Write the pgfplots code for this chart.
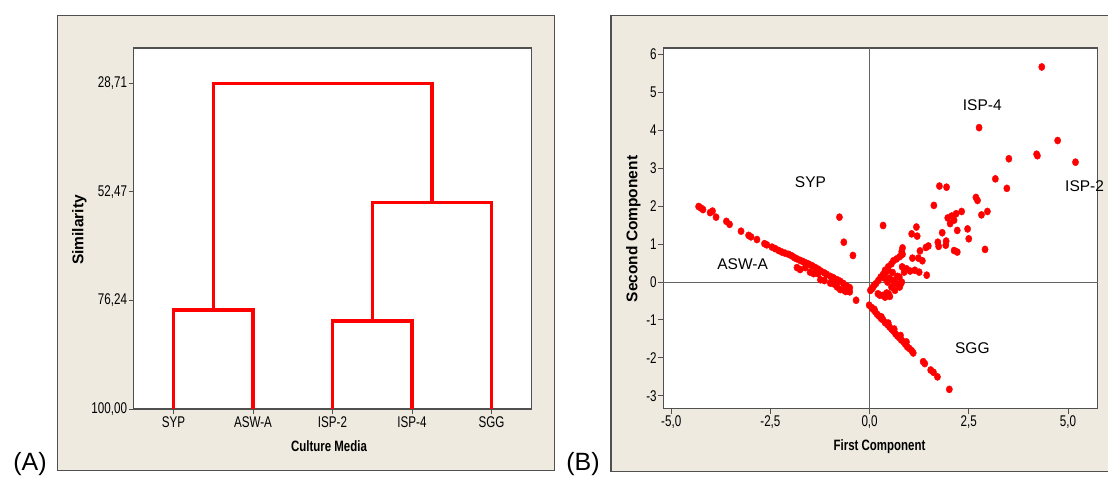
\documentclass[border=0pt]{standalone}
\usepackage{pgfplots}
\pgfplotsset{compat=1.18}
\usepackage{pgfplotstable}
\usepackage{fontspec}
\setmainfont{Liberation Sans}
\newfontfamily\tickfont[FakeStretch=0.75]{Liberation Sans}
\newfontfamily\labfont[FakeStretch=0.765]{Liberation Sans}
\definecolor{bg}{RGB}{238,234,224}
\definecolor{fr}{RGB}{80,80,80}
\definecolor{zl}{RGB}{100,100,100}
\definecolor{mred}{RGB}{255,0,0}

\pgfplotstableread{
x y
-4.31 1.99
-4.25 1.95
-4.20 1.91
-4.02 1.83
-3.96 1.87
-3.87 1.71
-3.61 1.60
-3.53 1.52
-3.24 1.34
-3.05 1.23
-2.99 1.19
-2.84 1.12
-2.65 1.01
-2.59 0.98
-2.46 0.92
-2.38 0.88
-2.29 0.83
-2.21 0.79
-2.13 0.76
-2.04 0.73
-1.96 0.69
-1.89 0.64
-1.83 0.61
-1.75 0.57
-1.68 0.54
-1.60 0.50
-1.53 0.47
-1.45 0.43
-1.37 0.38
-1.30 0.34
-1.23 0.29
-1.14 0.24
-1.08 0.20
-0.99 0.15
-0.91 0.11
-0.82 0.06
-0.74 0.02
-0.66 -0.04
-0.57 -0.11
-0.50 -0.15
-1.83 0.38
-1.75 0.33
-1.62 0.38
-1.50 0.26
-1.41 0.22
-1.30 0.22
-1.24 0.06
-1.14 0.04
-0.99 -0.03
-0.90 -0.05
-0.82 -0.13
-0.74 -0.20
-0.64 -0.22
-0.60 -0.25
-0.50 -0.26
-0.34 -0.48
}\aswa

\pgfplotstableread{
x y
-0.76 1.71
-0.65 1.05
-0.42 0.70
}\syp

\pgfplotstableread{
x y
-0.01 -0.61
0.05 -0.67
0.09 -0.72
0.12 -0.72
0.14 -0.78
0.19 -0.85
0.24 -0.90
0.29 -0.96
0.30 -0.92
0.34 -1.00
0.39 -1.07
0.45 -1.12
0.47 -1.08
0.50 -1.18
0.55 -1.24
0.60 -1.29
0.62 -1.24
0.65 -1.36
0.70 -1.42
0.75 -1.47
0.78 -1.41
0.80 -1.53
0.86 -1.58
0.90 -1.64
0.93 -1.58
0.95 -1.71
1.00 -1.75
1.06 -1.81
1.10 -1.87
1.35 -2.10
1.39 -2.15
1.54 -2.32
1.61 -2.38
1.71 -2.50
2.01 -2.83
}\sgg

\pgfplotstableread{
x y
4.34 5.67
2.76 4.07
4.74 3.73
4.21 3.37
4.23 3.33
5.19 3.16
3.51 3.25
3.17 2.72
3.46 2.47
1.76 2.53
1.94 2.50
2.68 2.23
2.72 2.15
2.97 1.86
2.82 1.77
2.32 1.86
1.62 2.02
1.97 1.69
2.07 1.74
2.18 1.80
2.03 1.54
2.13 1.63
2.21 1.36
2.47 1.40
2.50 1.14
1.83 1.30
2.91 0.86
2.13 0.83
2.21 0.79
1.93 1.08
1.92 0.97
1.72 1.05
1.74 0.94
0.34 1.49
1.18 1.45
1.06 1.27
1.20 1.21
1.48 0.95
1.42 0.91
1.27 0.82
0.83 0.90
0.81 0.80
1.08 0.63
1.23 0.63
1.33 0.56
0.60 0.56
0.68 0.61
0.76 0.67
0.83 0.73
0.55 0.48
0.47 0.40
0.39 0.31
0.93 0.35
0.87 0.26
1.02 0.29
1.14 0.31
1.25 0.26
1.44 0.18
0.82 0.40
0.75 0.13
0.09 -0.13
0.16 -0.04
0.22 0.04
0.28 0.13
0.34 0.20
0.41 0.26
0.47 0.31
0.60 0.04
0.68 -0.04
0.55 -0.13
0.64 -0.22
0.76 -0.13
0.81 0.00
0.26 -0.35
0.39 -0.40
0.51 -0.38
0.43 -0.29
0.21 -0.31
0.34 -0.35
0.48 -0.31
0.02 -0.22
0.06 -0.18
0.11 -0.09
0.79 -0.04
0.50 0.10
0.45 0.00
0.38 0.10
0.58 0.25
0.70 0.15
}\isp

\pgfplotsset{
  mystyle/.style={
    scale only axis,
    axis background/.style={fill=white},
    axis line style={fr, line width=1.1pt},
    tick style={fr, line width=0.9pt},
    tick align=outside,
    major tick length=5pt,
    xtick pos=bottom, ytick pos=left,
    tick label style={font=\tickfont\fontsize{15.5}{18}\selectfont},
    yticklabel style={inner xsep=1.5pt},
    xticklabel style={inner ysep=2pt},
  },
  dot/.style={only marks, color=mred, mark=*, mark size=3.6pt, mark options={solid, fill=mred, draw=mred, line width=0.4pt, xscale=0.87}}
}

\begin{document}
\begin{tikzpicture}
\useasboundingbox (0pt,0pt) rectangle (1108pt,477pt);
% panel backgrounds
\fill[bg] (57.3pt,6.3pt) rectangle (554.7pt,461.7pt);
\draw[fr, line width=1.3pt] (57.3pt,6.3pt) rectangle (554.7pt,461.7pt);
\fill[bg] (611pt,5.3pt) rectangle (1112pt,461.7pt);
\draw[fr, line width=1.3pt] (1112pt,461.7pt) -- (611pt,461.7pt) -- (611pt,5.3pt) -- (1112pt,5.3pt);

% (A) dendrogram
\begin{axis}[mystyle, at={(133.7pt,68pt)}, anchor=south west,
  width=397.6pt, height=361pt,
  xmin=0.5, xmax=5.5, y dir=reverse, ymin=20.98, ymax=100,
  xtick={1,2,3,4,5}, xticklabels={SYP,ASW-A,ISP-2,ISP-4,SGG},
  ytick={28.71,52.47,76.24,100},
  yticklabels={{28,71},{52,47},{76,24},{100,00}},
  clip=false]
\addplot[mred, line width=3.2pt, line join=miter] coordinates {(1,100) (1,78.33) (2,78.33) (2,100)};
\addplot[mred, line width=3.2pt, line join=miter] coordinates {(3,100) (3,80.74) (4,80.74) (4,100)};
\addplot[mred, line width=3.2pt, line join=miter] coordinates {(3.5,80.74) (3.5,54.76) (5,54.76) (5,100)};
\addplot[mred, line width=3.2pt, line join=miter] coordinates {(1.5,78.33) (1.5,28.71) (4.25,28.71) (4.25,54.76)};
\end{axis}

% (B) PCA scatter
\begin{axis}[mystyle, at={(663.3pt,68.3pt)}, anchor=south west,
  width=434.4pt, height=360.7pt,
  xmin=-5.2, xmax=5.75, ymin=-3.34, ymax=6.17,
  xtick={-5,-2.5,0,2.5,5}, xticklabels={{-5,0},{-2,5},{0,0},{2,5},{5,0}},
  ytick={-3,-2,-1,0,1,2,3,4,5,6}, yticklabels={-3,-2,-1,0,1,2,3,4,5,6},
  clip=false]
\draw[zl, line width=0.9pt] (axis cs:0,-3.34) -- (axis cs:0,6.17);
\draw[zl, line width=0.9pt] (axis cs:-5.2,0) -- (axis cs:5.75,0);
\addplot[dot] table {\aswa};
\addplot[dot] table {\syp};
\addplot[dot] table {\sgg};
\addplot[dot] table {\isp};
\node[font=\fontsize{15.5}{18}\selectfont] at (axis cs:2.84,4.66) {ISP-4};
\node[font=\fontsize{15.5}{18}\selectfont] at (axis cs:-1.49,2.63) {SYP};
\node[font=\fontsize{15.5}{18}\selectfont] at (axis cs:5.42,2.52) {ISP-2};
\node[font=\fontsize{15.5}{18}\selectfont] at (axis cs:-3.20,0.46) {ASW-A};
\node[font=\fontsize{15.5}{18}\selectfont] at (axis cs:2.59,-1.75) {SGG};
\end{axis}

% axis labels
\node[rotate=90, font=\bfseries\fontsize{15.5}{18}\selectfont] at (79.4pt,247pt) {Similarity};
\node[anchor=base, font=\labfont\bfseries\fontsize{15}{18}\selectfont] at (329pt,26pt) {Culture Media};
\node[rotate=90, font=\bfseries\fontsize{15.5}{18}\selectfont] at (633.4pt,248pt) {Second Component};
\node[anchor=base, font=\labfont\bfseries\fontsize{15}{18}\selectfont] at (879.5pt,27pt) {First Component};
% panel letters
\node[anchor=base, font=\fontsize{25}{30}\selectfont] at (30pt,7pt) {(A)};
\node[anchor=base, font=\fontsize{25}{30}\selectfont] at (583pt,7pt) {(B)};
\end{tikzpicture}
\end{document}
